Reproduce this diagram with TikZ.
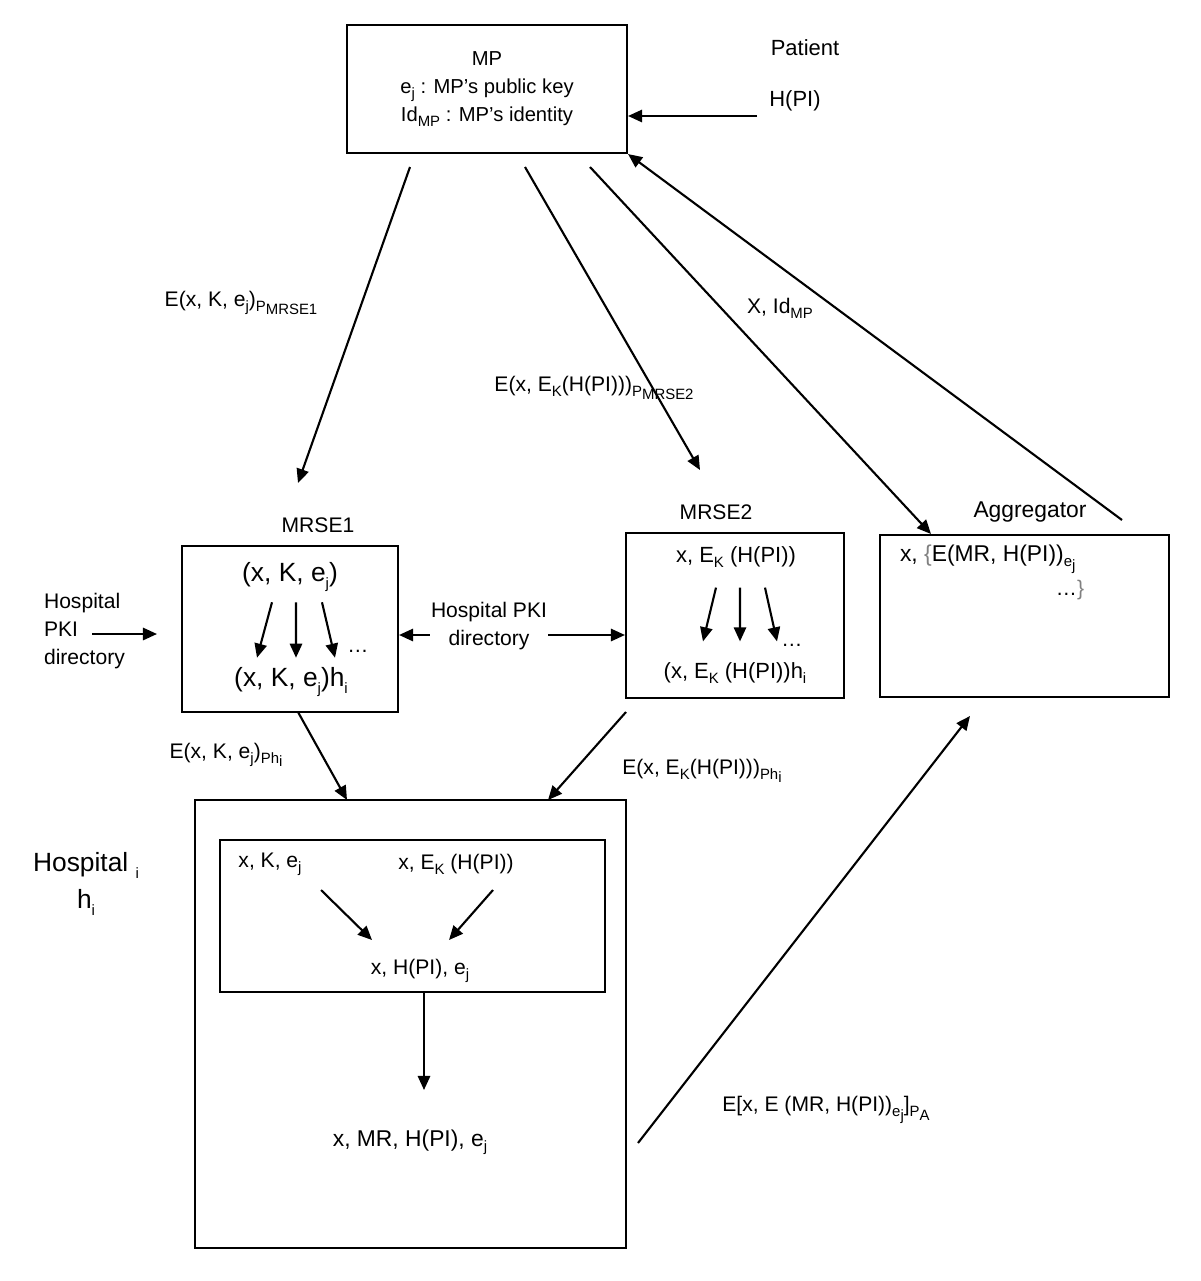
\documentclass[tikz,border=0pt]{standalone}
\usepackage{fontspec}
\setmainfont{Liberation Sans}
\usetikzlibrary{arrows.meta,positioning}
\newcommand{\sbs}[1]{\raisebox{-0.45ex}{\fontsize{8.5}{9}\selectfont #1}}

\begin{document}
\begin{tikzpicture}[x=0.02cm,y=-0.02cm,>={Triangle[length=8pt,width=7pt]},
      line width=1.2pt,
      box/.style={draw,line width=1.2pt,inner sep=0pt},
      txt/.style={inner sep=0pt,font=\fontsize{12}{16}\selectfont},
      bigtxt/.style={inner sep=0pt,font=\fontsize{15}{17}\selectfont}]
\useasboundingbox (0,0) rectangle (1200,1281);

% MP and patient
\node[box,inner sep=0pt,font=\fontsize{11.5}{16}\selectfont,align=center,minimum width=5.6cm,minimum height=2.56cm] (mp) at (487,89)
  {MP\\ e\sbs{j} : MP’s public key\\ Id\sbs{MP} : MP’s identity};
\node[txt,font=\fontsize{12.5}{16}\selectfont] (patient) at (805,48) {Patient};
\node[txt,font=\fontsize{12.5}{16}\selectfont] (hpi) at (795,101) {H(PI)};
\coordinate (hpiend) at (757,116);
\draw[->] (hpiend) -- (hpiend -| mp.east);

% boxes of the middle row
\node[box,minimum width=4.32cm,minimum height=3.32cm] (mrse1) at (290,629) {};
\node[txt] (mrse1l) at (318,525) {MRSE1};
\node[box,minimum width=4.36cm,minimum height=3.3cm] (mrse2) at (735,615.5) {};
\node[txt] (mrse2l) at (716,512) {MRSE2};
\node[box,minimum width=5.78cm,minimum height=3.24cm] (agg) at (1024.5,616) {};
\node[txt,font=\fontsize{13}{16}\selectfont] (aggl) at (1030,512) {Aggregator};

% MP to the middle row
\coordinate (mpa) at (410,167);
\coordinate (mpb) at (525,167);
\coordinate (mpc) at (590,167);
\coordinate (to1) at (298,483);
\coordinate (to2) at (700,470);
\coordinate (toagg) at (931,534);
\coordinate (fromagg) at (1122,520);
\draw[->] (mpa) -- (to1);
\draw[->] (mpb) -- (to2);
\draw[->] (mpc) -- (toagg);
\draw[->] (fromagg) -- (mp.south east);
\node[txt] (l1) at (241,303) {E(x, K, e\sbs{j})\sbs{P\sbs{MRSE1}}};
\node[txt] (l2) at (594,388) {E(x, E\sbs{K}(H(PI)))\sbs{P\sbs{MRSE2}}};
\node[txt] (l3) at (780,308) {X, Id\sbs{MP}};

% MRSE1
\node[bigtxt] (kej) at (290,577) {(x, K, e\sbs{j})};
\node[bigtxt] (kejh) at (291,682) {(x, K, e\sbs{j})h\sbs{i}};
\node[txt] (dots1) at (358,651) {…};
\foreach \xa/\xb in {-0.36/-0.68,0.12/0.1,0.64/0.88}
  \draw[->] ([xshift=\xa cm,yshift=-0.2cm]kej.south) -- ([xshift=\xb cm,yshift=0.18cm]kejh.north);

% MRSE2
\node[txt,font=\fontsize{12.5}{16}\selectfont] (ek) at (736,557) {x, E\sbs{K} (H(PI))};
\node[txt,font=\fontsize{12.5}{16}\selectfont] (ekh) at (735,673) {(x, E\sbs{K} (H(PI))h\sbs{i}};
\node[txt] (dots2) at (792,645) {…};
\foreach \xa/\xb in {-0.4/-0.64,0.08/0.1,0.58/0.84}
  \draw[->] ([xshift=\xa cm,yshift=-0.38cm]ek.south) -- ([xshift=\xb cm,yshift=0.4cm]ekh.north);

% directories
\node[txt,align=center] (pkimid) at (489,626) {Hospital PKI\\ directory};
\draw[->] ([yshift=-0.18cm]pkimid.west) -- ([yshift=-0.18cm]pkimid.west -| mrse1.east);
\draw[->] ([yshift=-0.18cm]pkimid.east) -- ([yshift=-0.18cm]pkimid.east -| mrse2.west);
\node[txt,align=left,anchor=west] (pkileft) at (43,631) {Hospital\\ PKI\\ directory};
\coordinate (pkia) at (92,634);
\coordinate (pkib) at (157,634);
\draw[->] (pkia) -- (pkib);

% Aggregator
\node[txt,font=\fontsize{13}{16}\selectfont,anchor=west] (aggtxt) at (899,559) {x, \textcolor{gray}{\{}E(MR, H(PI))\sbs{e\sbs{j}}};
\node[txt] (aggdots) at (1070,590) {…\textcolor{gray}{\}}};

% hospital
\node[box,minimum width=8.62cm,minimum height=8.96cm] (hosp) at (410.5,1024) {};
\node[box,minimum width=7.7cm,minimum height=3.04cm] (inner) at (412.5,916) {};
\node[inner sep=0pt,align=center,font=\fontsize{15}{21}\selectfont] (hospl) at (86,884)
  {Hospital \sbs{i}\\ h\sbs{i}};
\coordinate (m1) at (298,712);
\coordinate (h1) at (347,800);
\coordinate (m2) at (626,712);
\coordinate (h2) at (548,800);
\draw[->] (m1) -- (h1);
\draw[->] (m2) -- (h2);
\node[txt] (l4) at (226,755) {E(x, K, e\sbs{j})\sbs{Ph\sbs{i}}};
\node[txt] (l5) at (702,771) {E(x, E\sbs{K}(H(PI)))\sbs{Ph\sbs{i}}};

\node[txt] (ikej) at (270,864) {x, K, e\sbs{j}};
\node[txt] (iek) at (456,864) {x, E\sbs{K} (H(PI))};
\node[txt] (ihpi) at (420,971) {x, H(PI), e\sbs{j}};
\coordinate (ia) at (321,890);
\coordinate (ib) at (372,940);
\coordinate (ic) at (493,890);
\coordinate (id) at (449,940);
\draw[->] (ia) -- (ib);
\draw[->] (ic) -- (id);
\coordinate (down) at (424,1090);
\draw[->] (inner.south -| down) -- (down);
\node[txt,font=\fontsize{13}{16}\selectfont] (mr) at (410,1142) {x, MR, H(PI), e\sbs{j}};

% to the aggregator
\coordinate (out) at (638,1143);
\coordinate (aggin) at (970,716);
\draw[->] (out) -- (aggin);
\node[txt] (l6) at (826,1110) {E[x, E (MR, H(PI))\sbs{e\sbs{j}}]\sbs{P\sbs{A}}};
\end{tikzpicture}
\end{document}
